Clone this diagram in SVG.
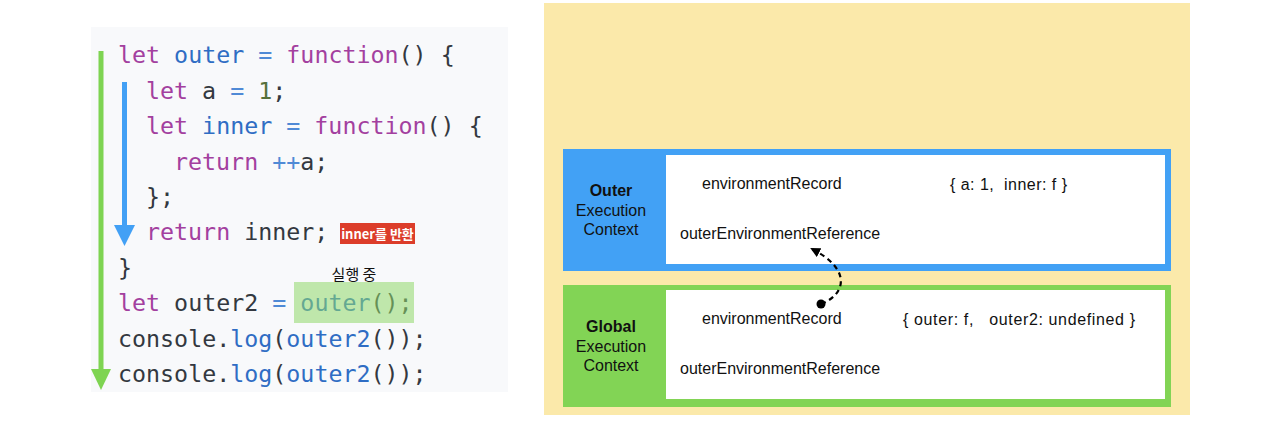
<svg xmlns="http://www.w3.org/2000/svg" width="1280" height="421" viewBox="0 0 1280 421">
<style>
.code{font-family:"DejaVu Sans Mono","Liberation Mono",monospace;font-size:23.3px;fill:#333840}
.k{fill:#a3409f}
.b{fill:#2f6dc4}
.o{fill:#4f8ad6}
.n{fill:#56713a}
.lbl{font-family:"Liberation Sans",Arial,sans-serif;font-size:16px;fill:#111}
.ec{font-family:"Liberation Sans",Arial,sans-serif;font-size:16px;fill:#111;text-anchor:middle}
.kr{font-family:"Noto Sans CJK KR",sans-serif}
</style>
<defs>
<marker id="ah" markerWidth="10" markerHeight="10" refX="8" refY="5" orient="auto" markerUnits="userSpaceOnUse">
<path d="M0,0 L10,5 L0,10 Z" fill="#000"/>
</marker>
</defs>
<rect width="1280" height="421" fill="#fff"/>
<g id="code-panel">
<rect x="91" y="27" width="417" height="365" fill="#f8f9fb"/>
<text class="code" x="118" y="63" xml:space="preserve"><tspan class="k">let</tspan> <tspan class="b">outer</tspan> <tspan class="o">=</tspan> <tspan class="k">function</tspan>() {</text>
<text class="code" x="146" y="98.5" xml:space="preserve"><tspan class="k">let</tspan> a <tspan class="o">=</tspan> <tspan class="n">1</tspan>;</text>
<text class="code" x="146" y="134" xml:space="preserve"><tspan class="k">let</tspan> <tspan class="b">inner</tspan> <tspan class="o">=</tspan> <tspan class="k">function</tspan>() {</text>
<text class="code" x="174" y="169.5" xml:space="preserve"><tspan class="k">return</tspan> <tspan class="o">++</tspan>a;</text>
<text class="code" x="146" y="205" xml:space="preserve">};</text>
<text class="code" x="146" y="240" xml:space="preserve"><tspan class="k">return</tspan> inner;</text>
<text class="code" x="118" y="275.5" xml:space="preserve">}</text>
<text class="code" x="118" y="311" xml:space="preserve"><tspan class="k">let</tspan> outer2 <tspan class="o">=</tspan> <tspan class="b">outer</tspan>();</text>
<text class="code" x="118" y="346.5" xml:space="preserve">console.<tspan class="b">log</tspan>(<tspan class="b">outer2</tspan>());</text>
<text class="code" x="118" y="382" xml:space="preserve">console.<tspan class="b">log</tspan>(<tspan class="b">outer2</tspan>());</text>
</g>
<g id="highlight">
<rect x="294" y="282" width="120" height="41" fill="#8fd86a" opacity="0.55"/>
<text class="kr" x="354" y="280" font-size="15" fill="#111" text-anchor="middle">실행 중</text>
</g>
<g id="return-label">
<rect x="340" y="223" width="75" height="21" fill="#dc3d2a"/>
<text class="kr" x="377.5" y="238.5" font-size="13" font-weight="bold" fill="#fff" text-anchor="middle">inner를 반환</text>
</g>
<g id="flow-arrows">
<line x1="101" y1="51" x2="101" y2="372" stroke="#7ed452" stroke-width="5"/>
<path d="M91,369 L111,369 L101,390 Z" fill="#7ed452"/>
<line x1="124.5" y1="82" x2="124.5" y2="228" stroke="#42a0f5" stroke-width="5"/>
<path d="M114,225 L135,225 L124.5,246 Z" fill="#42a0f5"/>
</g>
<g id="env-panel">
<rect x="544" y="3" width="646" height="412" fill="#fbe9aa"/>
</g>
<g id="outer-ec">
<rect x="563" y="149" width="608" height="122" fill="#42a1f5"/>
<rect x="666" y="155" width="499" height="109" fill="#fff"/>
<text class="ec" x="611" y="196" font-weight="bold">Outer</text>
<text class="ec" x="611" y="216">Execution</text>
<text class="ec" x="611" y="235">Context</text>
<text class="lbl" x="702" y="189">environmentRecord</text>
<text class="lbl" x="680" y="239">outerEnvironmentReference</text>
<text class="lbl" x="950" y="190" xml:space="preserve" textLength="117" lengthAdjust="spacing">{ a: 1,  inner: f }</text>
</g>
<g id="global-ec">
<rect x="563" y="285" width="608" height="122" fill="#82d455"/>
<rect x="666" y="290" width="499" height="109" fill="#fff"/>
<text class="ec" x="611" y="332" font-weight="bold">Global</text>
<text class="ec" x="611" y="352">Execution</text>
<text class="ec" x="611" y="371">Context</text>
<text class="lbl" x="702" y="324">environmentRecord</text>
<text class="lbl" x="680" y="374">outerEnvironmentReference</text>
<text class="lbl" x="903" y="325" xml:space="preserve" textLength="232" lengthAdjust="spacing">{ outer: f,   outer2: undefined }</text>
</g>
<g id="connectors">
<path d="M821,304 C845,295 853,270 812,249" fill="none" stroke="#000" stroke-width="2.2" stroke-dasharray="5,4" marker-end="url(#ah)"/>
<circle cx="821" cy="304" r="4.5" fill="#000"/>
</g>
</svg>
